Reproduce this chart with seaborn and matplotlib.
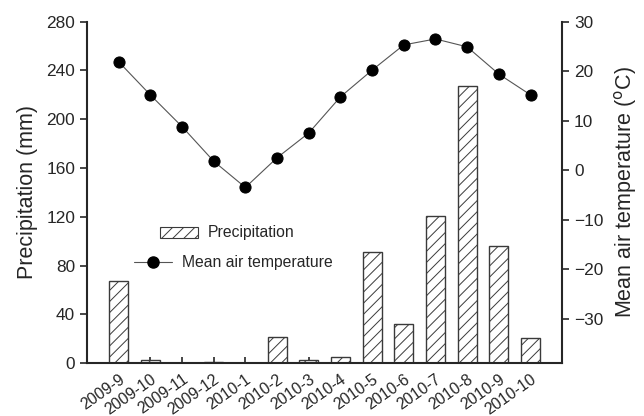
import matplotlib
matplotlib.use("Agg")
import matplotlib.pyplot as plt
import seaborn as sns
import pandas as pd
from matplotlib.patches import Patch
from matplotlib.lines import Line2D

months = ["2009-9", "2009-10", "2009-11", "2009-12", "2010-1", "2010-2", "2010-3",
          "2010-4", "2010-5", "2010-6", "2010-7", "2010-8", "2010-9", "2010-10"]
precip = [67, 3, 0, 0.8, 0, 21.6, 3, 5, 91.3, 32.2, 120.5, 227, 96, 20.5]
temp = [21.9, 15.2, 8.8, 1.8, -3.5, 2.5, 7.5, 14.8, 20.2, 25.3, 26.5, 24.9, 19.4, 15.2]
left_ticks = [0, 40, 80, 120, 160, 200, 240, 280]
right_ticks = [-30, -20, -10, 0, 10, 20, 30]

sns.set_style("ticks")
plt.rcParams["font.family"] = ["Liberation Sans", "DejaVu Sans"]
plt.rcParams["hatch.linewidth"] = 0.7
plt.rcParams["axes.linewidth"] = 1.5

df = pd.DataFrame({"month": months, "precip": precip, "temp": temp})

fig = plt.figure(figsize=(6.44, 4.16), dpi=100)
ax = fig.add_axes([0.135, 0.127, 0.738, 0.821])

sns.barplot(data=df, x="month", y="precip", ax=ax, color="white", edgecolor="#3a3a3a",
            linewidth=1.0, width=0.6, hatch="///", saturation=1)
ax.set_xlim(-1, len(months))
ax.set_ylim(0, 280)
ax.set_yticks(left_ticks)
ax.set_ylabel("Precipitation (mm)", fontsize=15.5, labelpad=6)
ax.set_xlabel("")
ax.tick_params(axis="y", direction="out", length=5, width=1.2, labelsize=12.4)
ax.tick_params(axis="x", direction="in", length=4, width=1.2, labelsize=11.5, pad=6)
for lab in ax.get_xticklabels():
    lab.set_rotation(35)
    lab.set_ha("right")
    lab.set_rotation_mode("anchor")

ax2 = ax.twinx()
sns.lineplot(data=df, x="month", y="temp", ax=ax2, sort=False, color="#555555",
             linewidth=0.8, marker="o", markersize=8, markerfacecolor="black",
             markeredgecolor="black")
ax2.set_ylim(-39, 30)
ax2.set_yticks(right_ticks)
ax2.set_ylabel("Mean air temperature ($^{\\rm o}$C)", fontsize=15.5, labelpad=6)
ax2.tick_params(axis="y", direction="out", length=5, width=1.2, labelsize=12.4)

for a in (ax, ax2):
    a.spines["top"].set_visible(False)
    for s in ("left", "right", "bottom"):
        a.spines[s].set_linewidth(1.5)
ax.spines["right"].set_visible(False)
ax2.spines["left"].set_visible(False)
ax2.spines["bottom"].set_visible(False)

h1 = Patch(facecolor="white", edgecolor="#3a3a3a", hatch="///", linewidth=0.8)
h2 = Line2D([], [], color="#555555", linewidth=0.8, marker="o", markersize=8,
            markerfacecolor="black", markeredgecolor="black")
leg1 = ax2.legend([h1], ["Precipitation"], loc="center left", frameon=False,
                  bbox_to_anchor=(160 / 644, 1 - 233 / 416), bbox_transform=fig.transFigure,
                  borderpad=0, borderaxespad=0, handlelength=2.4, handletextpad=0.65,
                  fontsize=11.3)
ax2.add_artist(leg1)
ax2.legend([h2], ["Mean air temperature"], loc="center left", frameon=False,
           bbox_to_anchor=(134 / 644, 1 - 263 / 416), bbox_transform=fig.transFigure,
           borderpad=0, borderaxespad=0, handlelength=2.4, handletextpad=0.65,
           fontsize=11.3)

fig.savefig("out.png", dpi=100)
